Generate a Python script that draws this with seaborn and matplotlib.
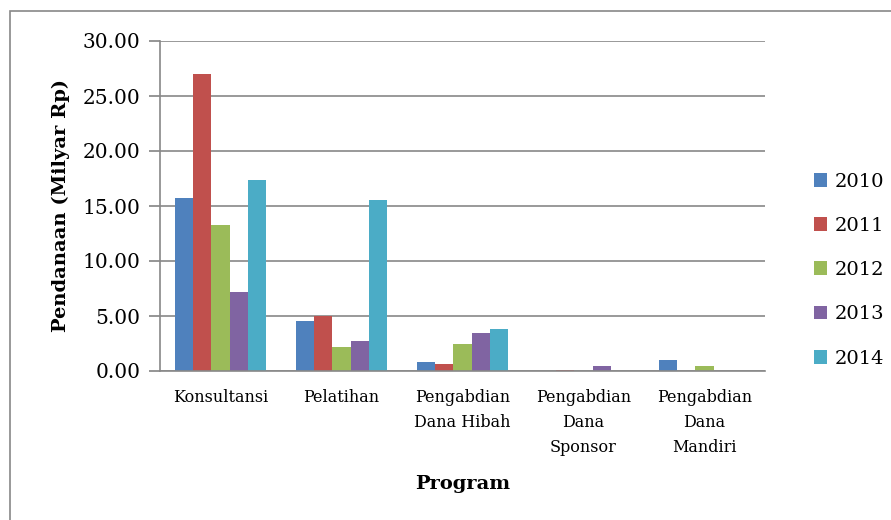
import numpy as np
import pandas as pd
import matplotlib
matplotlib.use("Agg")
import matplotlib.pyplot as plt
import seaborn as sns
from matplotlib.patches import Rectangle

programs = ["Konsultansi", "Pelatihan", "Pengabdian\nDana Hibah",
            "Pengabdian\nDana\nSponsor", "Pengabdian\nDana\nMandiri"]
years = ["2010", "2011", "2012", "2013", "2014"]
v2010 = [15.70, 4.55, 0.80, 0.00, 0.97]
v2011 = [27.00, 5.00, 0.60, 0.05, 0.00]
v2012 = [13.27, 2.18, 2.50, 0.00, 0.48]
v2013 = [7.20, 2.73, 3.50, 0.50, 0.00]
v2014 = [17.36, 15.55, 3.78, 0.00, 0.00]
colors = ["#4F81BD", "#C0504D", "#9BBB59", "#8064A2", "#4BACC6"]

rows = []
for yr, vals in zip(years, [v2010, v2011, v2012, v2013, v2014]):
    for p, v in zip(programs, vals):
        rows.append({"Program": p, "Tahun": yr, "Nilai": v})
df = pd.DataFrame(rows)

sns.set_theme(style="white")
plt.rcParams["font.family"] = ["DejaVu Serif"]
plt.rcParams["text.color"] = "black"
plt.rcParams["xtick.color"] = "black"
plt.rcParams["ytick.color"] = "black"
plt.rcParams["axes.labelcolor"] = "black"

fig = plt.figure(figsize=(8.91, 5.2), dpi=100)
ax = fig.add_axes([160 / 891, 1 - 371 / 520, 605 / 891, 330 / 520])

sns.barplot(data=df, x="Program", y="Nilai", hue="Tahun", palette=colors,
            width=0.76, gap=0, saturation=1, linewidth=0, ax=ax, legend=True)

ax.set_ylim(0, 30)
ax.set_yticks(np.arange(0, 31, 5))
ax.set_yticklabels([f"{t:.2f}" for t in np.arange(0, 31, 5)], fontsize=14.5)
ax.tick_params(axis="y", length=8, color="#888888", direction="out", left=True, pad=6)
ax.tick_params(axis="x", length=0, labelsize=11.5, pad=13)
for lbl in ax.get_xticklabels():
    lbl.set_linespacing(1.6)
ax.yaxis.grid(True, color="#888888", linewidth=1.2)
ax.set_axisbelow(True)
for s in ["top", "right"]:
    ax.spines[s].set_visible(False)
for s in ["left", "bottom"]:
    ax.spines[s].set_color("#888888")
    ax.spines[s].set_linewidth(1.2)

ax.set_xlabel("Program", fontsize=14, fontweight="bold", labelpad=14)
ax.set_ylabel("Pendanaan (Milyar Rp)", fontsize=14, fontweight="bold", labelpad=9)

handles, labels = ax.get_legend_handles_labels()
ax.legend_.remove()
fig.legend(handles, labels, loc="center left", bbox_to_anchor=(796 / 891, 1 - 270 / 520),
           frameon=False, fontsize=14, handlelength=0.7, handleheight=0.7,
           handletextpad=0.4, labelspacing=1.35)

fig.patches.append(Rectangle((10 / 891, -0.1), 1.2, 1 - 11 / 520 + 0.1,
                             transform=fig.transFigure, fill=False,
                             edgecolor="#888888", linewidth=1.2))

fig.savefig("out.png", dpi=100)
